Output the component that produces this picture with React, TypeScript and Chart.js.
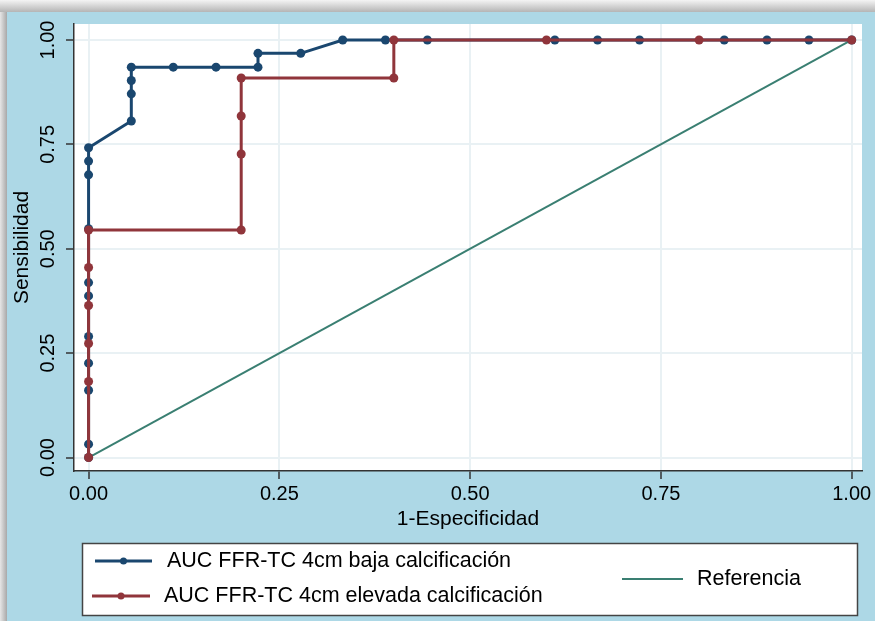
import React, { useEffect, useRef } from "react";
import { Chart, registerables } from "chart.js";

Chart.register(...registerables);

// ---- data ----
const tickValues = [0, 0.25, 0.5, 0.75, 1];
const tickLabels = ["0.00", "0.25", "0.50", "0.75", "1.00"];

const bajaLabel = "AUC FFR-TC 4cm baja calcificación";
const bajaX = [0, 0, 0, 0, 0, 0, 0, 0, 0, 0, 0, 0.056, 0.056, 0.056, 0.056, 0.111, 0.167, 0.222, 0.222, 0.278, 0.333, 0.389, 0.444, 0.611, 0.667, 0.722, 0.833, 0.889, 0.944, 1];
const bajaY = [0, 0.032, 0.161, 0.226, 0.29, 0.387, 0.419, 0.548, 0.677, 0.71, 0.742, 0.806, 0.871, 0.903, 0.935, 0.935, 0.935, 0.935, 0.968, 0.968, 1, 1, 1, 1, 1, 1, 1, 1, 1, 1];

const elevadaLabel = "AUC FFR-TC 4cm elevada calcificación";
const elevadaX = [0, 0, 0, 0, 0, 0, 0.2, 0.2, 0.2, 0.2, 0.4, 0.4, 0.6, 0.8, 1];
const elevadaY = [0, 0.182, 0.273, 0.364, 0.455, 0.545, 0.545, 0.727, 0.818, 0.909, 0.909, 1, 1, 1, 1];

const refLabel = "Referencia";
const refX = [0, 1];
const refY = [0, 1];

const xTitle = "1-Especificidad";
const yTitle = "Sensibilidad";

// ---- styles ----
const NAVY = "#1a476f";
const MAROON = "#90353b";
const TEAL = "#3a7f72";
const FONT = "'Liberation Sans', Arial, Helvetica, sans-serif";

const zip = (xs: number[], ys: number[]) => xs.map((x, i) => ({ x, y: ys[i] }));

export default function App() {
  const ref = useRef<HTMLCanvasElement | null>(null);

  useEffect(() => {
    const canvas = ref.current;
    if (!canvas) return;

    const bgPlugin = {
      id: "bgPlugin",
      beforeDraw(chart: any) {
        const { ctx, width, height, chartArea: ca } = chart;
        ctx.save();
        ctx.fillStyle = "#cfcfcf";
        ctx.fillRect(0, 0, width, height);
        const g = ctx.createLinearGradient(0, 0, 0, 12);
        g.addColorStop(0, "#f4f4f4");
        g.addColorStop(1, "#b5b5b5");
        ctx.fillStyle = g;
        ctx.fillRect(0, 0, width, 12);
        const g2 = ctx.createLinearGradient(0, 0, 7, 0);
        g2.addColorStop(0, "#e6e6e6");
        g2.addColorStop(1, "#a8a8a8");
        ctx.fillStyle = g2;
        ctx.fillRect(0, 12, 7, height - 12);
        ctx.fillStyle = "#add8e6";
        ctx.fillRect(7, 12, width - 7, height - 12);
        ctx.fillStyle = "#ffffff";
        ctx.fillRect(ca.left, ca.top, ca.right - ca.left, ca.bottom - ca.top);
        ctx.restore();
      },
      afterDraw(chart: any) {
        const { ctx } = chart;
        const yScale = chart.scales.y;
        ctx.save();
        // rotated y tick labels
        ctx.fillStyle = "#000";
        ctx.font = `20px ${FONT}`;
        ctx.textAlign = "center";
        ctx.textBaseline = "middle";
        tickValues.forEach((v, i) => {
          const py = yScale.getPixelForValue(v);
          ctx.save();
          ctx.translate(48, py);
          ctx.rotate(-Math.PI / 2);
          ctx.fillText(tickLabels[i], 0, 0);
          ctx.restore();
        });

        // legend box
        ctx.fillStyle = "#ffffff";
        ctx.fillRect(82, 543, 776, 73);
        ctx.strokeStyle = "#444";
        ctx.lineWidth = 1.5;
        ctx.strokeRect(82.5, 543.5, 775, 72);

        const item = (x1: number, x2: number, y: number, color: string, lw: number, dot: boolean) => {
          ctx.strokeStyle = color;
          ctx.lineWidth = lw;
          ctx.beginPath();
          ctx.moveTo(x1, y);
          ctx.lineTo(x2, y);
          ctx.stroke();
          if (dot) {
            ctx.fillStyle = color;
            ctx.beginPath();
            ctx.arc((x1 + x2) / 2, y, 3.5, 0, Math.PI * 2);
            ctx.fill();
          }
        };
        item(95, 152, 561, NAVY, 3, true);
        item(92, 150, 596, MAROON, 3, true);
        item(622, 683, 579, TEAL, 2, false);

        ctx.fillStyle = "#000";
        ctx.font = `21.5px ${FONT}`;
        ctx.textAlign = "left";
        ctx.textBaseline = "middle";
        ctx.fillText(bajaLabel, 167, 561);
        ctx.fillText(elevadaLabel, 164, 596);
        ctx.fillText(refLabel, 697, 579);
        ctx.restore();
      },
    };

    const setTicks = (scale: any) => {
      scale.ticks = tickValues.map((v) => ({ value: v }));
    };

    const chart = new Chart(canvas, {
      type: "scatter",
      data: {
        datasets: [
          {
            label: elevadaLabel,
            data: zip(elevadaX, elevadaY),
            showLine: true,
            borderColor: MAROON,
            backgroundColor: MAROON,
            borderWidth: 3,
            pointRadius: 4.5,
            pointBorderWidth: 0,
            pointBackgroundColor: MAROON,
          },
          {
            label: bajaLabel,
            data: zip(bajaX, bajaY),
            showLine: true,
            borderColor: NAVY,
            backgroundColor: NAVY,
            borderWidth: 3,
            pointRadius: 4.5,
            pointBorderWidth: 0,
            pointBackgroundColor: NAVY,
          },
          {
            label: refLabel,
            data: zip(refX, refY),
            showLine: true,
            borderColor: TEAL,
            backgroundColor: TEAL,
            borderWidth: 2,
            pointRadius: 0,
          },
        ],
      },
      options: {
        responsive: false,
        animation: false,
        devicePixelRatio: 1,
        layout: { padding: { left: 0, top: 24, right: 13, bottom: 89 } },
        plugins: {
          legend: { display: false },
          tooltip: { enabled: false },
        },
        scales: {
          x: {
            type: "linear",
            min: -0.0191,
            max: 1.0135,
            afterBuildTicks: setTicks,
            afterFit: (s: any) => {
              s.height = 61;
            },
            grid: {
              color: "#e9f1f4",
              lineWidth: 2,
              tickColor: "#333",
              tickLength: 8,
              tickWidth: 1.5,
            },
            border: { display: true, color: "#333", width: 1.5 },
            ticks: {
              autoSkip: false,
              maxRotation: 0,
              minRotation: 0,
              padding: 3,
              color: "#000",
              font: { size: 20, family: FONT },
              callback: (v: any) => {
                const i = tickValues.indexOf(Number(v));
                return i >= 0 ? tickLabels[i] : "";
              },
            },
            title: {
              display: true,
              text: xTitle,
              color: "#000",
              font: { size: 21, family: FONT },
              padding: { top: 0, bottom: 0 },
            },
          },
          y: {
            type: "linear",
            min: -0.0323,
            max: 1.0383,
            afterBuildTicks: setTicks,
            afterFit: (s: any) => {
              s.width = 74;
            },
            grid: {
              color: "#e9f1f4",
              lineWidth: 2,
              tickColor: "#333",
              tickLength: 8,
              tickWidth: 1.5,
            },
            border: { display: true, color: "#333", width: 1.5 },
            ticks: { display: false },
            title: {
              display: true,
              text: yTitle,
              color: "#000",
              font: { size: 21, family: FONT },
              padding: { top: 10, bottom: 0 },
            },
          },
        },
      },
      plugins: [bgPlugin],
    } as any);

    return () => chart.destroy();
  }, []);

  return (
    <div style={{ position: "absolute", left: 0, top: 0, width: 875, height: 621 }}>
      <canvas ref={ref} width={875} height={621} style={{ width: 875, height: 621, display: "block" }} />
    </div>
  );
}
